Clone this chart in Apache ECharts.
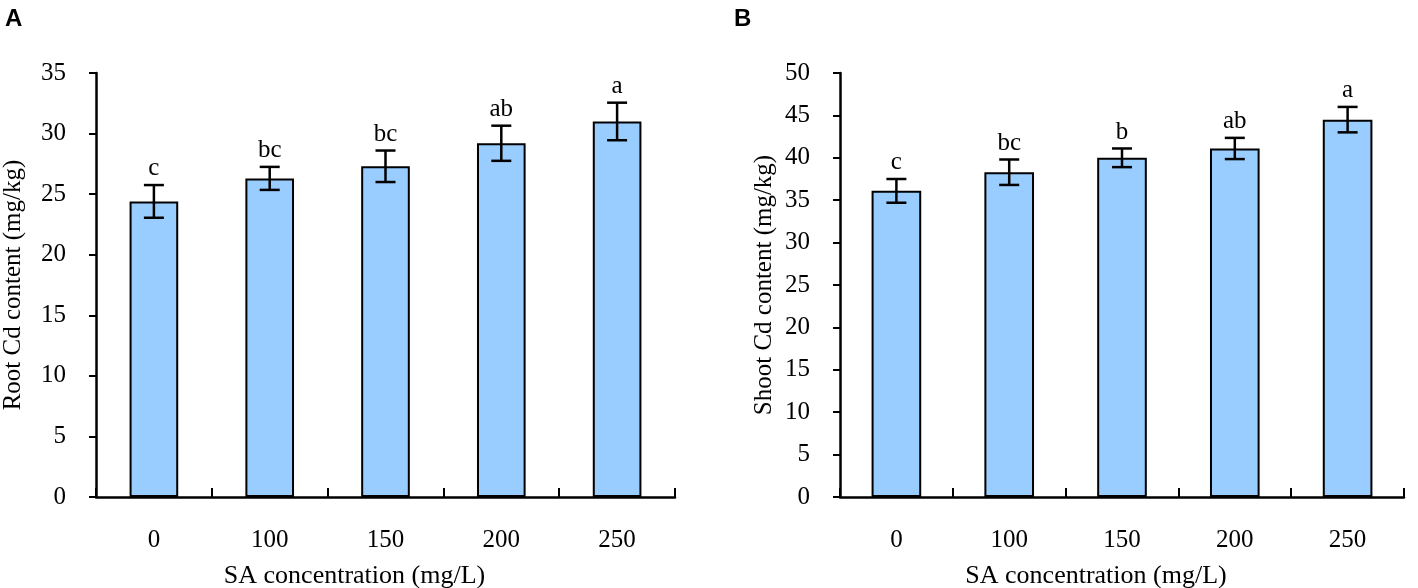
<!DOCTYPE html>
<html>
<head>
    <meta charset="utf-8">
    <title>Root and Shoot Cd content</title>
    <script src="https://cdn.jsdelivr.net/npm/echarts@6/dist/echarts.min.js"></script>
    <style>
        html, body { margin: 0; padding: 0; background: #fff; }
        #chart { width: 1418px; height: 588px; }
    </style>
</head>
<body>
<div id="chart"></div>
<script type="text/javascript">
    // 数据
    var categories = ['0', '100', '150', '200', '250'];
    var rootMean = [24.4, 26.3, 27.3, 29.2, 31.0];
    var rootErr = [1.35, 0.95, 1.3, 1.45, 1.55];
    var rootLetters = ['c', 'bc', 'bc', 'ab', 'a'];
    var shootMean = [36.1, 38.3, 40.0, 41.1, 44.5];
    var shootErr = [1.4, 1.5, 1.1, 1.25, 1.5];
    var shootLetters = ['c', 'bc', 'b', 'ab', 'a'];

    var serif = 'Liberation Serif';
    var myChart = echarts.init(document.getElementById('chart'));

    function errData(mean, err) {
        return mean.map(function (m, i) { return [i, m, err[i]]; });
    }

    function renderErr(letters) {
        return function (params, api) {
            var i = api.value(0), m = api.value(1), e = api.value(2);
            var top = api.coord([i, m + e]);
            var bot = api.coord([i, m - e]);
            var hw = 10;
            var st = { stroke: '#000', lineWidth: 2.5 };
            return {
                type: 'group',
                children: [
                    { type: 'line', shape: { x1: top[0], y1: top[1], x2: bot[0], y2: bot[1] }, style: st },
                    { type: 'line', shape: { x1: top[0] - hw, y1: top[1], x2: top[0] + hw, y2: top[1] }, style: st },
                    { type: 'line', shape: { x1: bot[0] - hw, y1: bot[1], x2: bot[0] + hw, y2: bot[1] }, style: st },
                    { type: 'text', x: top[0], y: top[1] - 4,
                      style: { text: letters[i], fill: '#000', font: '25px ' + serif,
                               textAlign: 'center', textVerticalAlign: 'bottom' } }
                ]
            };
        };
    }

    function xAxis(gi, shift) {
        return {
            type: 'category', gridIndex: gi, data: categories,
            name: 'SA concentration (mg/L)', nameLocation: 'middle', nameGap: 66,
            nameTextStyle: { color: '#000', fontFamily: serif, fontSize: 26, padding: [0, shift, 0, 0] },
            axisLine: { lineStyle: { color: '#000', width: 2.5 } },
            axisTick: { show: true, inside: true, interval: 0, length: 9, lineStyle: { color: '#000', width: 2 } },
            axisLabel: { color: '#000', fontFamily: serif, fontSize: 25, margin: 31 },
            splitLine: { show: false }
        };
    }

    function yAxis(gi, max, name, gap) {
        return {
            type: 'value', gridIndex: gi, min: 0, max: max, interval: 5,
            name: name, nameLocation: 'middle', nameGap: gap,
            nameTextStyle: { color: '#000', fontFamily: serif, fontSize: 25 },
            axisLine: { show: true, lineStyle: { color: '#000', width: 2.5 } },
            axisTick: { show: true, length: 7, lineStyle: { color: '#000', width: 2 } },
            axisLabel: { color: '#000', fontFamily: serif, fontSize: 25, margin: 30 },
            splitLine: { show: false }
        };
    }

    var barStyle = { color: '#99ccff', borderColor: '#000', borderWidth: 2 };

    myChart.setOption({
        animation: false,
        title: [
            { text: 'A', left: 0, top: 2, textStyle: { fontFamily: 'Liberation Sans', fontWeight: 'bold', fontSize: 24, color: '#000' } },
            { text: 'B', left: 729, top: 2, textStyle: { fontFamily: 'Liberation Sans', fontWeight: 'bold', fontSize: 24, color: '#000' } }
        ],
        grid: [
            { left: 96, top: 73, width: 579, height: 424, outerBoundsMode: 'none' },
            { left: 840, top: 73, width: 564, height: 424, outerBoundsMode: 'none' }
        ],
        xAxis: [xAxis(0, 62), xAxis(1, 52)],
        yAxis: [yAxis(0, 35, 'Root Cd content (mg/kg)', 70), yAxis(1, 50, 'Shoot Cd content (mg/kg)', 63)],
        series: [
            { type: 'bar', xAxisIndex: 0, yAxisIndex: 0, data: rootMean, barWidth: '42%', itemStyle: barStyle },
            { type: 'custom', xAxisIndex: 0, yAxisIndex: 0, data: errData(rootMean, rootErr),
              renderItem: renderErr(rootLetters), z: 10 },
            { type: 'bar', xAxisIndex: 1, yAxisIndex: 1, data: shootMean, barWidth: '44%', itemStyle: barStyle },
            { type: 'custom', xAxisIndex: 1, yAxisIndex: 1, data: errData(shootMean, shootErr),
              renderItem: renderErr(shootLetters), z: 10 }
        ]
    });
</script>
</body>
</html>
